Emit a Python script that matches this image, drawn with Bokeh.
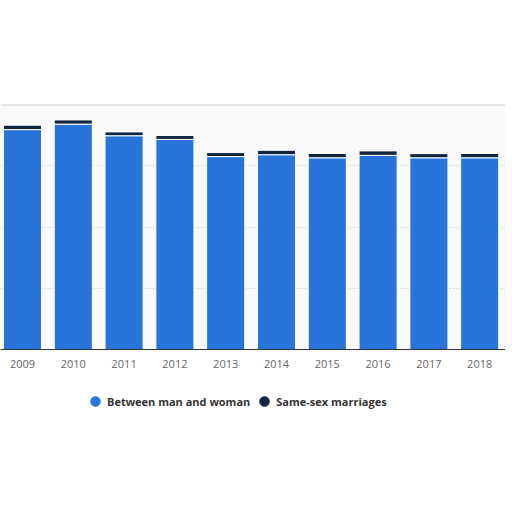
from bokeh.plotting import figure
from bokeh.models import (ColumnDataSource, Range1d, FixedTicker, Span, Legend, LegendItem)
from bokeh.layouts import column
from bokeh.embed import file_html
from bokeh.resources import INLINE

years = [2009, 2010, 2011, 2012, 2013, 2014, 2015, 2016, 2017, 2018]
year_labels = ["2009", "2010", "2011", "2012", "2013", "2014", "2015", "2016", "2017", "2018"]
man_woman = [71800, 73600, 69800, 68600, 63000, 63600, 62600, 63400, 62600, 62600]
same_sex = [1450, 1350, 1250, 1300, 1300, 1450, 1400, 1450, 1350, 1400]
series_names = ["Between man and woman", "Same-sex marriages"]
series_colors = ["#2874d9", "#0f2540"]
grid_values = [20000, 40000, 60000]
y_top = 80000

source = ColumnDataSource(dict(year=years, mw=man_woman, ss=same_sex))

p = figure(frame_width=505, frame_height=245, output_backend="svg", toolbar_location=None,
           x_range=Range1d(2008.567, 2018.508), y_range=Range1d(0, y_top),
           y_axis_location=None, min_border_left=0, min_border_right=0,
           min_border_top=104, min_border_bottom=30)

p.background_fill_color = "#fafafa"
p.border_fill_color = "white"
p.outline_line_color = None

renderers = p.vbar_stack(["mw", "ss"], x="year", width=0.75, color=series_colors,
                         line_color="white", line_width=1, source=source)

p.xgrid.visible = False
p.ygrid.ticker = FixedTicker(ticks=grid_values)
p.ygrid.grid_line_color = "#d8d8d8"
p.ygrid.grid_line_dash = "2 2"
p.ygrid.grid_line_width = 1

p.add_layout(Span(location=y_top, dimension="width", line_color="#cccccc", line_width=2))

ax = p.xaxis[0]
ax.ticker = FixedTicker(ticks=years)
ax.major_label_overrides = {y: l for y, l in zip(years, year_labels)}
ax.major_tick_line_color = None
ax.minor_tick_line_color = None
ax.major_tick_out = 0
ax.major_tick_in = 0
ax.axis_line_color = "#333333"
ax.axis_line_width = 1
ax.major_label_standoff = 10
ax.major_label_text_font = "Open Sans"
ax.major_label_text_font_size = "11px"
ax.major_label_text_color = "#666666"

# legend figure (legend only; helper points lie outside its visible range)
lf = figure(frame_width=505, frame_height=60, output_backend="svg", toolbar_location=None,
            x_range=Range1d(0, 1), y_range=Range1d(0, 1),
            x_axis_location=None, y_axis_location=None,
            min_border_left=0, min_border_right=0, min_border_top=0, min_border_bottom=0)
lf.outline_line_color = None
lf.grid.visible = False
lf.background_fill_color = "white"
lf.border_fill_color = "white"

leg_renderers = []
for c in series_colors:
    helper = ColumnDataSource(dict(x=[-5], y=[-5]))
    r = lf.scatter("x", "y", source=helper, marker="circle", size=10,
                   fill_color=c, line_color=c)
    leg_renderers.append(r)

legend = Legend(items=[LegendItem(label=n, renderers=[r]) for n, r in zip(series_names, leg_renderers)],
                orientation="horizontal", location=(83, 26))
legend.background_fill_alpha = 0
legend.border_line_color = None
legend.padding = 0
legend.margin = 0
legend.spacing = 2
legend.glyph_width = 24
legend.glyph_height = 24
legend.label_standoff = 0
legend.label_text_font = "Open Sans"
legend.label_text_font_size = "11px"
legend.label_text_font_style = "bold"
legend.label_text_color = "#333333"
legend.label_height = 24
lf.add_layout(legend)

layout = column(p, lf, spacing=0)
open("out.html", "w").write(file_html(layout, INLINE))
